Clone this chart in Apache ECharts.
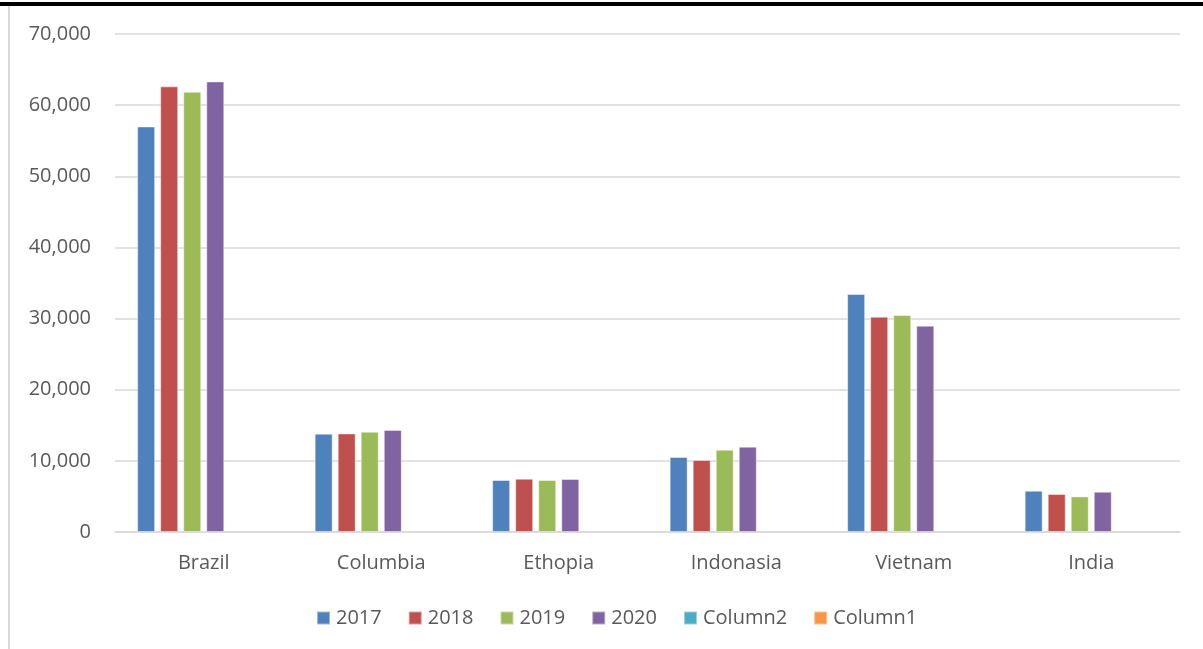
<!DOCTYPE html>
<html>
<head>
<meta charset="utf-8">
<script src="https://cdn.jsdelivr.net/npm/echarts@6/dist/echarts.min.js"></script>
<style>
html,body{margin:0;padding:0;background:#fff;}
#chart{width:1203px;height:649px;}
</style>
</head>
<body>
<div id="chart"></div>
<script>
const categories = ["Brazil", "Columbia", "Ethopia", "Indonasia", "Vietnam", "India"];
const seriesNames = ["2017", "2018", "2019", "2020", "Column2", "Column1"];
const v2017 = [57000, 13820, 7310, 10540, 33450, 5800];
const v2018 = [62640, 13860, 7490, 10120, 30260, 5340];
const v2019 = [61890, 14100, 7310, 11570, 30500, 5000];
const v2020 = [63340, 14340, 7450, 11990, 29000, 5660];
const vColumn2 = [null, null, null, null, null, null];
const vColumn1 = [null, null, null, null, null, null];
const colors = ["#4F81BD", "#C0504D", "#9BBB59", "#8064A2", "#4BACC6", "#F79646"];

const allData = [v2017, v2018, v2019, v2020, vColumn2, vColumn1];
const FONT = "'Open Sans', 'Liberation Sans', Arial, sans-serif";

const chart = echarts.init(document.getElementById('chart'), null, {renderer: 'canvas'});
chart.setOption({
  animation: false,
  backgroundColor: '#ffffff',
  color: colors,
  graphic: [
    {type: 'rect', shape: {x: 0, y: 2, width: 1203, height: 4}, style: {fill: '#000000'}, z: 10},
    {type: 'rect', shape: {x: 8, y: 6, width: 2, height: 643}, style: {fill: '#d9d9d9'}, z: 10}
  ],
  grid: {left: 115, right: 23, top: 34, bottom: 117, containLabel: false},
  legend: {
    data: seriesNames,
    left: 316,
    top: 608,
    padding: 0,
    itemWidth: 13,
    itemHeight: 13,
    itemGap: 26,
    icon: 'rect',
    textStyle: {color: '#595959', fontSize: 20, fontFamily: FONT, padding: [0, 0, 0, 1]}
  },
  xAxis: {
    type: 'category',
    data: categories,
    axisLine: {show: true, lineStyle: {color: '#d9d9d9', width: 1.5}},
    axisTick: {show: false},
    axisLabel: {color: '#595959', fontSize: 20, fontFamily: FONT, margin: 21}
  },
  yAxis: {
    type: 'value',
    min: 0,
    max: 70000,
    interval: 10000,
    axisLine: {show: false},
    axisTick: {show: false},
    splitLine: {lineStyle: {color: '#d9d9d9', width: 1.5}},
    axisLabel: {
      color: '#595959', fontSize: 20, fontFamily: FONT, margin: 24,
      formatter: v => v.toLocaleString('en-US')
    }
  },
  series: seriesNames.map((name, i) => ({
    name: name,
    type: 'bar',
    data: allData[i],
    barWidth: 18,
    barGap: '28%',
    itemStyle: {color: colors[i], borderColor: 'rgba(255,255,255,0.45)', borderWidth: 1}
  }))
});
</script>
</body>
</html>
